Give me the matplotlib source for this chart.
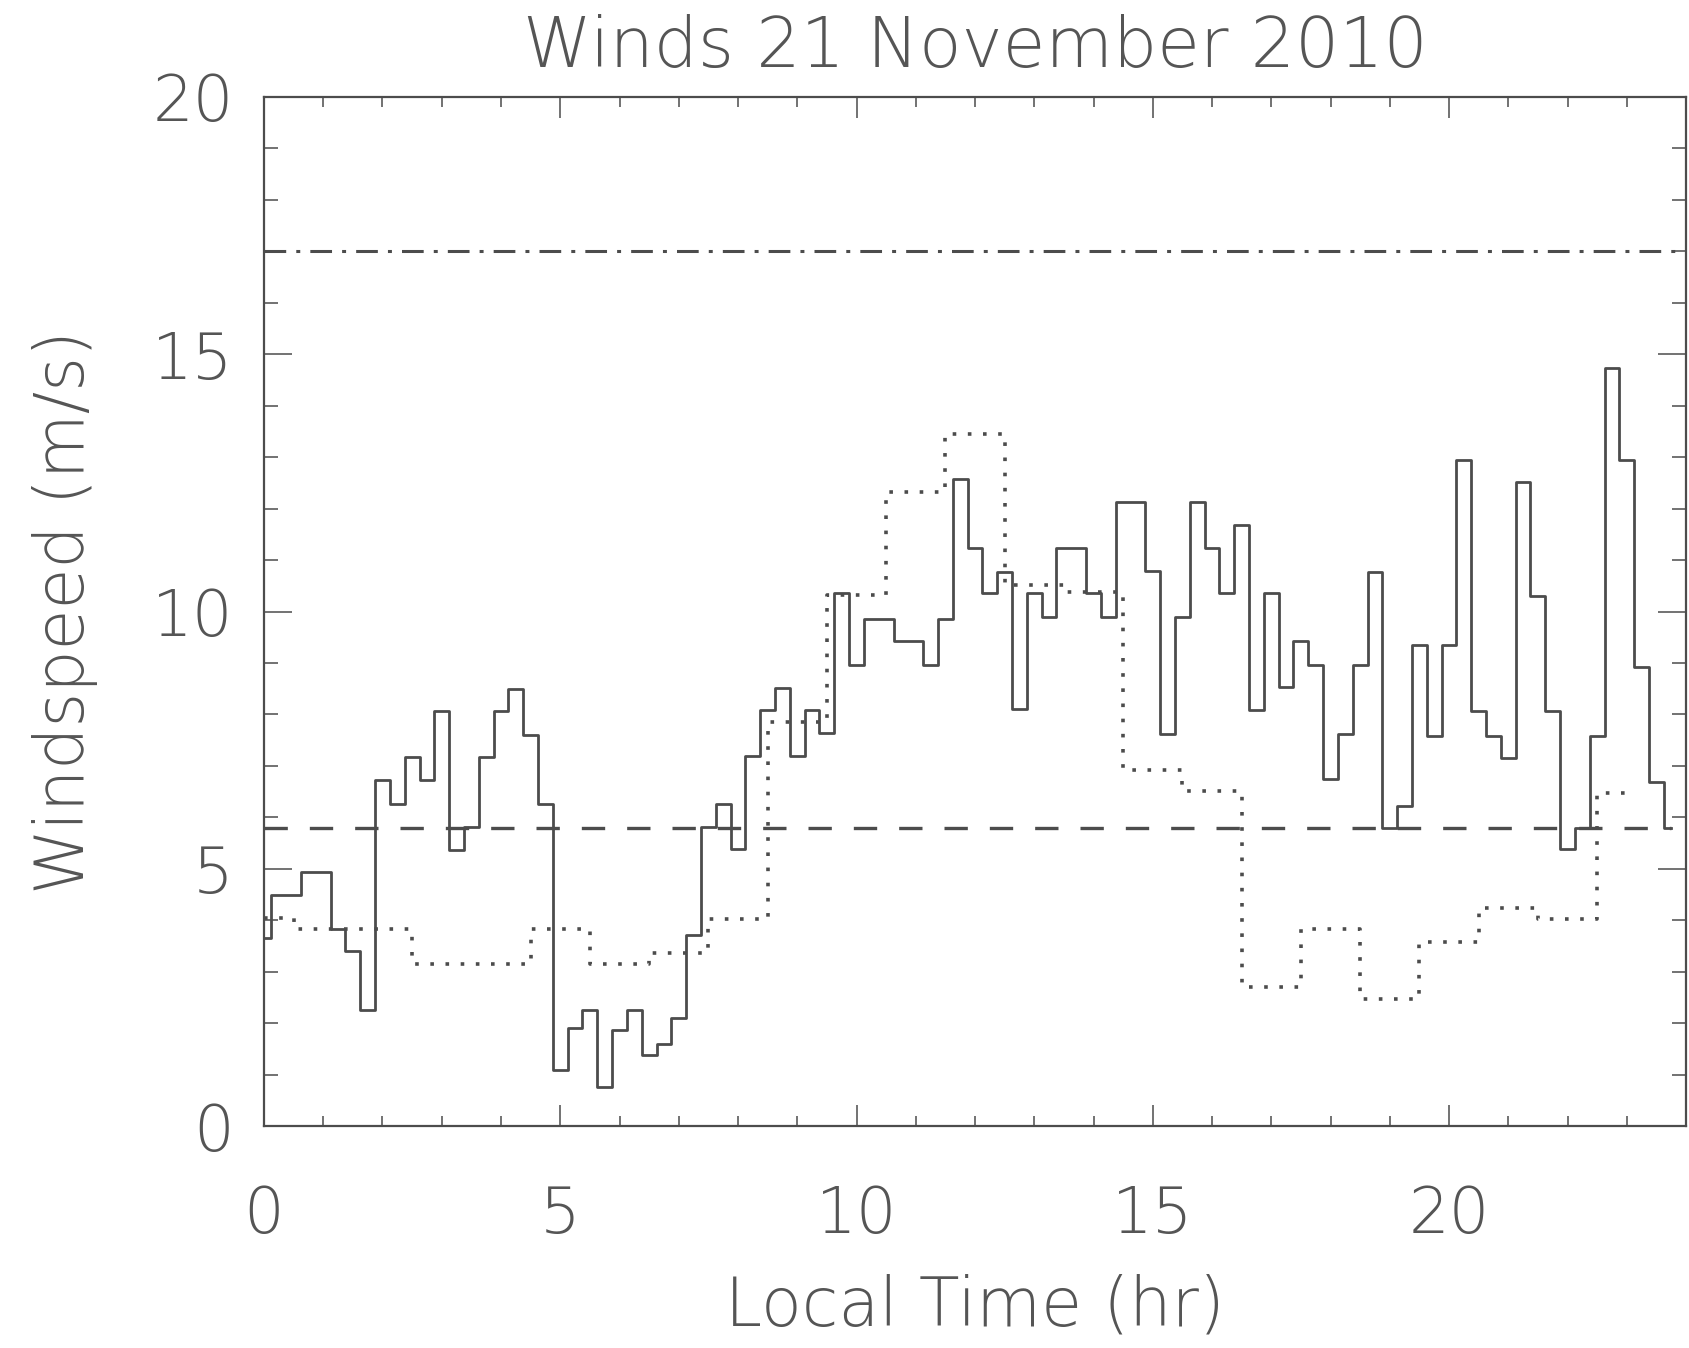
import matplotlib
matplotlib.use("Agg")
import matplotlib.pyplot as plt
import numpy as np
from matplotlib.ticker import MultipleLocator

# 15-minute winds (solid), 0.00 .. 23.75 hr
t_15min = np.arange(96) * 0.25
wind_15min = [
    3.65, 4.49, 4.49, 4.94, 4.94, 3.82, 3.41, 2.25,
    6.72, 6.26, 7.17, 6.72, 8.07, 5.36, 5.82, 7.17,
    8.07, 8.49, 7.60, 6.26, 1.09, 1.90, 2.25, 0.76,
    1.87, 2.25, 1.38, 1.59, 2.10, 3.72, 5.82, 6.26,
    5.39, 7.19, 8.09, 8.52, 7.19, 8.09, 7.64, 10.35,
    8.96, 9.86, 9.86, 9.43, 9.43, 8.96, 9.86, 12.57,
    11.23, 10.35, 10.77, 8.10, 10.35, 9.89, 11.23, 11.23,
    10.35, 9.89, 12.13, 12.13, 10.79, 7.62, 9.89, 12.13,
    11.23, 10.35, 11.69, 8.09, 10.35, 8.53, 9.43, 8.96,
    6.75, 7.62, 8.96, 10.77, 5.80, 6.22, 9.35, 7.58,
    9.35, 12.94, 8.06, 7.58, 7.16, 12.51, 10.30, 8.06,
    5.38, 5.80, 7.58, 14.73, 12.94, 8.93, 6.69, 5.80,
]

# hourly winds (dotted), 0 .. 23 hr
t_hourly = np.arange(24)
wind_hourly = [
    4.04, 3.82, 3.82, 3.15, 3.15, 3.82, 3.15, 3.36,
    4.03, 7.86, 10.33, 12.32, 13.45, 10.52, 10.38, 6.92,
    6.51, 2.70, 3.82, 2.46, 3.58, 4.24, 4.02, 6.48,
]

low_level = 5.8    # dashed
high_level = 17.0  # dash-dot

grey = '#4c4c4c'
txt = '#555555'
plt.rcParams['font.family'] = ['DejaVu Sans']
plt.rcParams['font.weight'] = 'light'

fig = plt.figure(figsize=(16.9, 13.48), dpi=100)
ax = fig.add_axes([264 / 1690, 222 / 1348, 1422 / 1690, 1029 / 1348])

ax.step(t_15min, wind_15min, where='mid', color=grey, lw=2.0)
ax.step(t_hourly, wind_hourly, where='mid', color=grey, lw=2.6,
        linestyle=(0, (1, 3.2)))
ax.hlines(low_level, t_15min[0], t_15min[-1], color=grey, lw=2.4,
          linestyle=(0, (7.0, 6.6)))
ax.axhline(high_level, color=grey, lw=2.2, linestyle=(0, (7.1, 3.3, 1.3, 3.3)))

ax.set_xlim(0, 24)
ax.set_ylim(0, 20)
ax.xaxis.set_major_locator(MultipleLocator(5))
ax.xaxis.set_minor_locator(MultipleLocator(1))
ax.yaxis.set_major_locator(MultipleLocator(5))
ax.yaxis.set_minor_locator(MultipleLocator(1))

for s in ax.spines.values():
    s.set_color(grey)
    s.set_linewidth(1.6)

ax.tick_params(which='both', direction='in', top=True, right=True,
               color=grey, width=1.1, labelcolor=txt, labelsize=46)
ax.tick_params(axis='x', which='major', length=14.8, pad=42)
ax.tick_params(axis='x', which='minor', length=7.4)
ax.tick_params(axis='y', which='major', length=20.5, pad=22)
ax.tick_params(axis='y', which='minor', length=10.2)

ax.set_title('Winds 21 November 2010', fontsize=50, color=txt, pad=21.6,
             fontweight='light')
ax.set_xlabel('Local Time (hr)', fontsize=48, color=txt, fontweight='light')
ax.set_ylabel('Windspeed (m/s)', fontsize=48, color=txt, fontweight='light')
ax.xaxis.set_label_coords(0.5, -0.143)
ax.yaxis.set_label_coords(-0.117, 0.5)

fig.savefig('out.png', dpi=100, facecolor='white')
